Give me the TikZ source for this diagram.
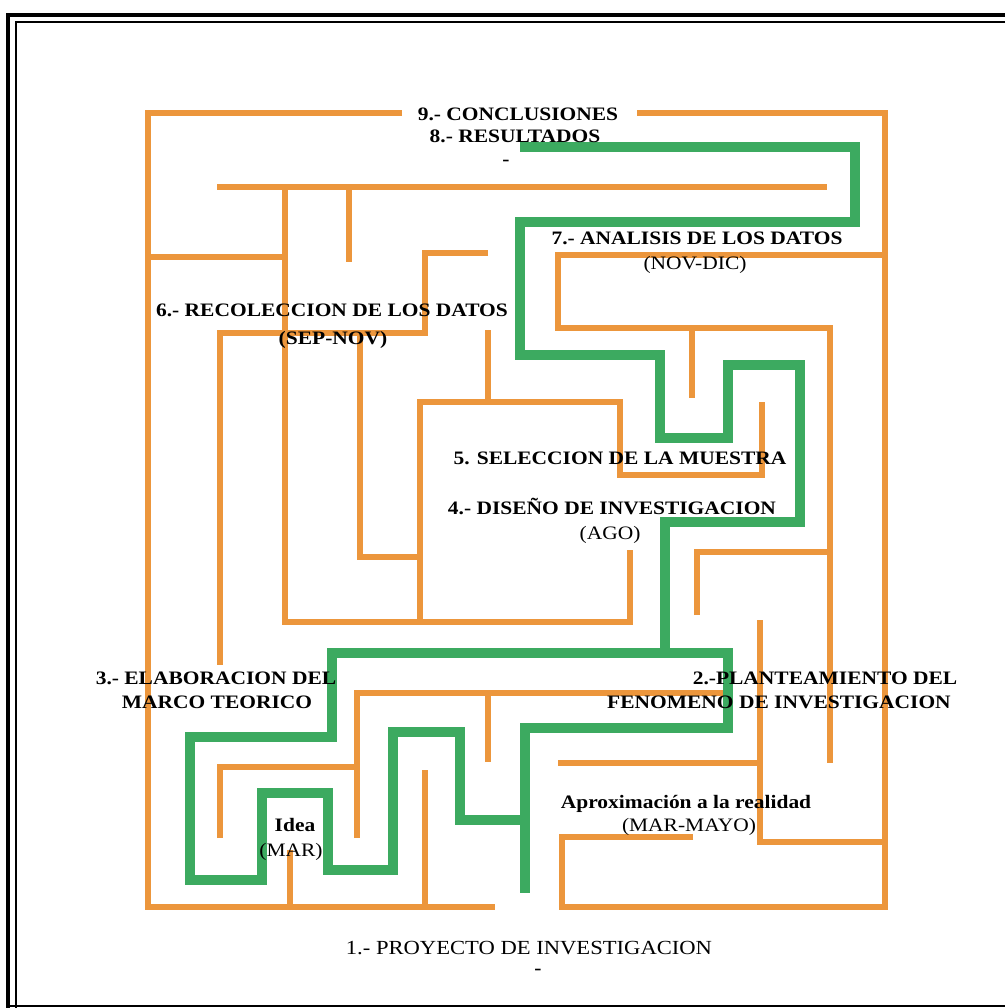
\documentclass[tikz,border=0pt]{standalone}
\usepackage{fontspec}
\setmainfont{Liberation Serif}[FakeStretch=1.13]
\usepackage{tikz}

\definecolor{naranja}{RGB}{236,150,60}
\definecolor{verde}{RGB}{60,170,96}

\begin{document}
\begin{tikzpicture}[x=1pt, y=-1pt]

% Estilos del laberinto
\tikzstyle{muro} = [draw=naranja, line width=5.5pt, line cap=butt, line join=miter]
\tikzstyle{camino} = [draw=verde, line width=10.5pt, line cap=butt, line join=miter]

% Estilos de los textos
\tikzstyle{etiqueta} = [inner sep=0pt, anchor=base, font=\bfseries\fontsize{19}{21}\selectfont]
\tikzstyle{fecha} = [inner sep=0pt, anchor=base, font=\fontsize{19}{21}\selectfont]

\useasboundingbox (0,0) rectangle (1005,1008);

% Marco doble
\draw[line width=3.5pt] (1005,15) -- (8,15) -- (8,1008);
\draw[line width=2.5pt] (1005,22) -- (16,22) -- (16,1008);
\draw[line width=2pt] (8,1006) -- (1005,1006);

% Muros exteriores
\draw[muro] (402,113) -- (148,113) -- (148,907) -- (495,907);
\draw[muro] (693,837) -- (562,837) -- (562,907) -- (885,907) -- (885,113) -- (637,113);

% Muros interiores
\draw[muro] (148,257) -- (285,257);
\draw[muro] (217,187) -- (827,187);
\draw[muro] (285,187) -- (285,622) -- (630,622) -- (630,550);
\draw[muro] (349,187) -- (349,262);
\draw[muro] (488,253) -- (425,253) -- (425,333) -- (220,333) -- (220,665);
\draw[muro] (360,333) -- (360,557) -- (420,557);
\draw[muro] (420,622) -- (420,402) -- (620,402) -- (620,475) -- (762,475) -- (762,402);
\draw[muro] (488,330) -- (488,402);
\draw[muro] (885,255) -- (558,255) -- (558,328) -- (830,328) -- (830,763);
\draw[muro] (692,328) -- (692,398);
\draw[muro] (697,615) -- (697,552) -- (830,552);
\draw[muro] (760,620) -- (760,842) -- (885,842);
\draw[muro] (558,763) -- (760,763);
\draw[muro] (357,838) -- (357,693) -- (723,693);
\draw[muro] (488,693) -- (488,762);
\draw[muro] (220,838) -- (220,767) -- (357,767);
\draw[muro] (425,770) -- (425,907);
\draw[muro] (290,850) -- (290,907);

% Recorrido verde
\draw[camino] (520,147) -- (855,147) -- (855,222) -- (520,222) -- (520,355)
    -- (660,355) -- (660,438) -- (728,438) -- (728,365) -- (800,365)
    -- (800,522) -- (665,522) -- (665,653) -- (728,653) -- (728,728)
    -- (525,728) -- (525,893);
\draw[camino] (665,653) -- (332,653) -- (332,737) -- (190,737) -- (190,880)
    -- (262,880) -- (262,793) -- (328,793) -- (328,870) -- (393,870)
    -- (393,732) -- (460,732) -- (460,820) -- (525,820);

% Etapas
\node[etiqueta] (conclusiones) at (518,121) {9.- CONCLUSIONES};
\node[etiqueta] (resultados) at (515,143) {8.- RESULTADOS};
\node[etiqueta, anchor=center] (guionarriba) at (506,163) {-};
\node[etiqueta] (analisis) at (697,244) {7.- ANALISIS DE LOS DATOS};
\node[fecha] (novdic) at (695,269) {(NOV-DIC)};
\node[etiqueta] (recoleccion) at (332,316) {6.- RECOLECCION DE LOS DATOS};
\node[etiqueta] (sepnov) at (333,344) {(SEP-NOV)};
\node[etiqueta] (seleccion) at (620,464) {5. SELECCION DE LA MUESTRA};
\node[etiqueta] (diseno) at (612,514) {4.- DISEÑO DE INVESTIGACION};
\node[fecha] (ago) at (610,539) {(AGO)};
\node[etiqueta] (elaboracion) at (216,684) {3.- ELABORACION DEL};
\node[etiqueta] (marco) at (217,708) {MARCO TEORICO};
\node[etiqueta] (planteamiento) at (825,684) {2.-PLANTEAMIENTO DEL};
\node[etiqueta] (fenomeno) at (779,708) {FENOMENO DE INVESTIGACION};
\node[etiqueta] (idea) at (295,831) {Idea};
\node[fecha] (mar) at (291,856) {(MAR)};
\node[etiqueta] (aproximacion) at (686,808) {Aproximación a la realidad};
\node[fecha] (marmayo) at (689,831) {(MAR-MAYO)};
\node[fecha, font=\fontsize{20}{22}\selectfont] (proyecto) at (529,954) {1.- PROYECTO DE INVESTIGACION};
\node[etiqueta, anchor=center] (guionabajo) at (538,972) {-};

\end{tikzpicture}
\end{document}
